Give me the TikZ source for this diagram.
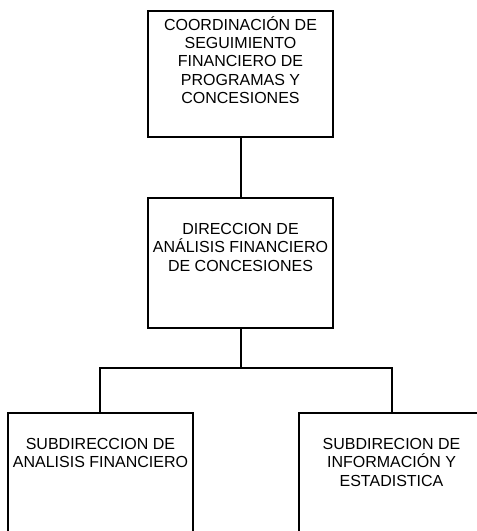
\documentclass[tikz,border=0pt]{standalone}
\usepackage{fontspec}
\setmainfont{Liberation Sans}
\usetikzlibrary{positioning}

\begin{document}
\begin{tikzpicture}[
              unit/.style={draw, line width=1.5pt, minimum width=138.75pt, inner sep=0pt},
              txt/.style={align=center, inner sep=0pt, font=\fontsize{12pt}{13.8pt}\selectfont},
              link/.style={line width=1.5pt}
            ]
            \useasboundingbox (-180.375pt,7.5pt) rectangle (176.625pt,-390.75pt);

            % Cajas
            \node[unit, minimum height=94.5pt, anchor=north] (coord) at (0,0) {};
            \node[unit, minimum height=97.5pt, below=44.25pt of coord] (dir) {};
            \node[unit, minimum height=97.5pt, below=62.25pt of dir, xshift=-105pt] (subaf) {};
            \node[unit, minimum height=97.5pt, below=62.25pt of dir, xshift=113.25pt] (subie) {};

            % Textos
            \node[txt, below=4.5pt of coord.north] (coordtxt) {COORDINACIÓN DE\\SEGUIMIENTO\\FINANCIERO DE\\PROGRAMAS Y\\CONCESIONES};
            \node[txt, below=19.5pt of dir.north] (dirtxt) {DIRECCION DE\\ANÁLISIS FINANCIERO\\DE CONCESIONES};
            \node[txt, below=19.5pt of subaf.north] (subaftxt) {SUBDIRECCION DE\\ANALISIS FINANCIERO};
            \node[txt, below=19.5pt of subie.north] (subietxt) {SUBDIRECION DE\\INFORMACIÓN Y\\ESTADISTICA};

            % Conexiones
            \coordinate[below=29.25pt of dir.south] (split);
            \draw[link] (coord) -- (dir);
            \draw[link] (dir.south) -- (split);
            \draw[link] (subaf.north) |- (split) -| (subie.north);

            \end{tikzpicture}
\end{document}
